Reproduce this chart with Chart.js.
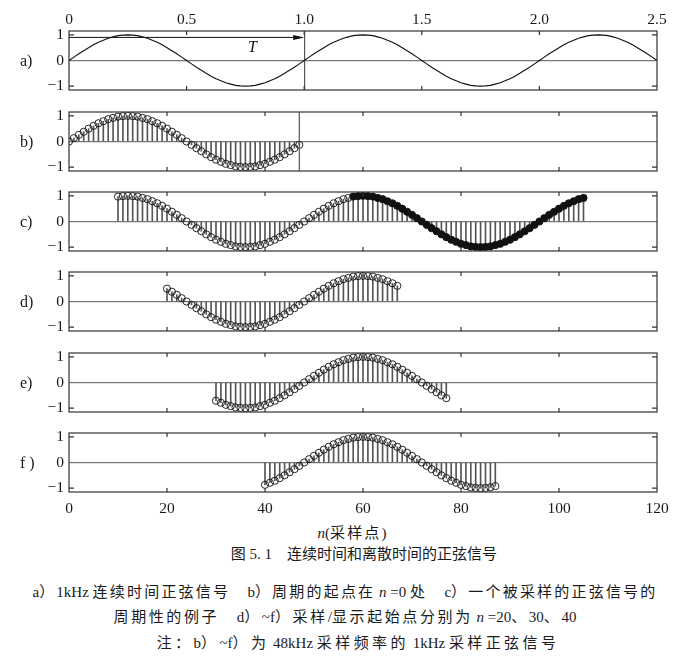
<!DOCTYPE html>
<html>
<head>
<meta charset="utf-8">
<script src="https://cdn.jsdelivr.net/npm/chart.js@4.4.0/dist/chart.umd.min.js"></script>
<style>
    body { margin: 0; background: #fff; }
    #page { position: relative; width: 687px; height: 663px; overflow: hidden;
            font-family: "Liberation Serif", "Noto Sans CJK SC", serif; color: #1a1a1a; }
    .panel { position: absolute; left: 0; width: 687px; }
    .tag { position: absolute; left: 20px; font-size: 16px; line-height: 20px; }
    .txt { position: absolute; white-space: nowrap; transform: translateX(-50%); line-height: 20px; letter-spacing: 2.2px; }
    .l { letter-spacing: 0; }
</style>
</head>
<body>
<div id="page">
    <div class="txt" style="left:352px;top:523px;font-size:15px"><span class="l"><i>n</i>(</span>采样点<span class="l">)</span></div>
    <div class="txt" style="left:364px;top:544px;font-size:15px;letter-spacing:0">图 5. 1　连续时间和离散时间的正弦信号</div>
    <div class="txt" style="left:345px;top:582px;font-size:15px"><span class="l">a</span>）<span class="l">1kHz </span>连续时间正弦信号　<span class="l">b</span>）周期的起点在<span class="l"> <i>n</i> =0 </span>处　<span class="l">c</span>）一个被采样的正弦信号的</div>
    <div class="txt" style="left:345px;top:607px;font-size:15px;letter-spacing:2.6px">周期性的例子　<span class="l">d</span>）<span class="l">~f</span>）采样<span class="l">/</span>显示起始点分别为<span class="l"> <i>n</i> =20</span>、<span class="l">30</span>、<span class="l">40</span></div>
    <div class="txt" style="left:358px;top:633px;font-size:15px;letter-spacing:3.4px">注：<span class="l">b</span>）<span class="l">~f</span>）为<span class="l"> 48kHz </span>采样频率的<span class="l"> 1kHz </span>采样正弦信号</div>
</div>
<script>
// one period of the 1 kHz sine at 48 kHz
const periodSamples = [
    0, 0.13, 0.26, 0.38, 0.5, 0.61, 0.71, 0.79, 0.87, 0.92, 0.97, 0.99,
    1, 0.99, 0.97, 0.92, 0.87, 0.79, 0.71, 0.61, 0.5, 0.38, 0.26, 0.13,
    0, -0.13, -0.26, -0.38, -0.5, -0.61, -0.71, -0.79, -0.87, -0.92, -0.97, -0.99,
    -1, -0.99, -0.97, -0.92, -0.87, -0.79, -0.71, -0.61, -0.5, -0.38, -0.26, -0.13
];
const samplesPerMs = 48;
const panelNames = ['a)', 'b)', 'c)', 'd)', 'e)', 'f )'];
const firstSample = [0, 0, 10, 20, 30, 40];
const lastSample = [120, 47, 105, 67, 77, 87];
const filledFrom = 58;          // panel c: second period drawn solid
const periodMarkMs = 1.0;       // panel a vertical line
const periodMarkSample = 47;    // panel b vertical line
const arrowLevel = 0.9;
const arrowLabel = { text: 'T', x: 0.78, y: 0.5 };
const timeTicks = [0, 0.5, 1.0, 1.5, 2.0, 2.5];
const sampleTicks = [0, 20, 40, 60, 80, 100, 120];
const levelTicks = [-1, 0, 1];

// layout
const boxLeft = 69, boxRight = 657, boxHeight = 59;
const boxTops = [31, 112, 192, 272, 353, 433];

const tickFont = { family: '"Liberation Serif", serif', size: 15.5 };

function sampleSeries(from, to) {
    const out = [];
    for (let n = from; n <= to; n++) {
        out.push({ x: n, y: periodSamples[n % periodSamples.length] });
    }
    return out;
}

function framePlugin(i) {
    return {
        id: 'frame' + i,
        afterDatasetsDraw(chart) {
            const { ctx, chartArea: a, scales: { x, y } } = chart;
            const marks = i === 0 ? timeTicks : sampleTicks;

            ctx.save();
            ctx.strokeStyle = '#333';
            ctx.lineWidth = 1.2;
            ctx.strokeRect(a.left, a.top, a.right - a.left, a.bottom - a.top);

            ctx.beginPath();
            marks.slice(1, -1).forEach(v => {
                const px = x.getPixelForValue(v);
                ctx.moveTo(px, a.top); ctx.lineTo(px, a.top + 4);
                ctx.moveTo(px, a.bottom); ctx.lineTo(px, a.bottom - 4);
            });
            [-1, 1].forEach(v => {
                const py = y.getPixelForValue(v);
                ctx.moveTo(a.left, py); ctx.lineTo(a.left + 5, py);
                ctx.moveTo(a.right, py); ctx.lineTo(a.right - 5, py);
            });
            ctx.stroke();

            if (i === 0) {
                const x0 = x.getPixelForValue(0), x1 = x.getPixelForValue(periodMarkMs);
                const py = y.getPixelForValue(arrowLevel);
                ctx.strokeStyle = '#111';
                ctx.lineWidth = 1;
                ctx.beginPath();
                ctx.moveTo(x0, py); ctx.lineTo(x1 - 6, py);
                ctx.stroke();
                ctx.fillStyle = '#111';
                ctx.beginPath();
                ctx.moveTo(x1, py); ctx.lineTo(x1 - 11, py - 2.5); ctx.lineTo(x1 - 11, py + 2.5);
                ctx.closePath();
                ctx.fill();

                ctx.font = 'italic 16px "Liberation Serif", serif';
                ctx.textAlign = 'center';
                ctx.textBaseline = 'middle';
                ctx.fillText(arrowLabel.text, x.getPixelForValue(arrowLabel.x), y.getPixelForValue(arrowLabel.y));
            }
            if (i === 1) {
                const px = x.getPixelForValue(periodMarkSample);
                ctx.strokeStyle = '#555';
                ctx.lineWidth = 1.2;
                ctx.beginPath();
                ctx.moveTo(px, a.top); ctx.lineTo(px, a.bottom);
                ctx.stroke();
            }
            ctx.restore();
        }
    };
}

function makePanel(i) {
    const isA = i === 0, isF = i === 5;
    const padTop = isA ? 0 : 10;
    const padBottom = isF ? 0 : 10;
    const topAxis = isA ? 31 : 0;
    const bottomAxis = isF ? 34 : 0;
    const top = boxTops[i] - padTop - topAxis;
    const height = padTop + topAxis + boxHeight + padBottom + bottomAxis;

    const wrap = document.createElement('div');
    wrap.className = 'panel';
    wrap.style.top = top + 'px';
    wrap.style.height = height + 'px';
    const canvas = document.createElement('canvas');
    wrap.appendChild(canvas);
    document.getElementById('page').appendChild(wrap);

    const tag = document.createElement('div');
    tag.className = 'tag';
    tag.textContent = panelNames[i];
    tag.style.top = (boxTops[i] + boxHeight / 2 - 10) + 'px';
    document.getElementById('page').appendChild(tag);

    let datasets;
    if (isA) {
        datasets = [{
            data: sampleSeries(firstSample[0], lastSample[0]).map(p => ({ x: p.x / samplesPerMs, y: p.y })),
            showLine: true,
            borderColor: '#111',
            borderWidth: 1.1,
            pointRadius: 0
        }];
    } else {
        const all = sampleSeries(firstSample[i], lastSample[i]);
        const open = i === 2 ? all.filter(p => p.x < filledFrom) : all;
        const solid = i === 2 ? all.filter(p => p.x >= filledFrom) : [];
        const circle = (data, fill) => ({
            type: 'line',
            data: data,
            showLine: false,
            pointRadius: 3.6,
            pointBorderWidth: 0.9,
            pointBorderColor: '#111',
            pointBackgroundColor: fill,
            order: 0
        });
        datasets = [
            circle(open, 'rgba(0,0,0,0)'),
            circle(solid, '#111'),
            {
                type: 'bar',
                data: all,
                barThickness: 1,
                backgroundColor: '#555',
                borderWidth: 0,
                order: 1
            }
        ];
    }

    new Chart(canvas, {
        type: 'scatter',
        data: { datasets: datasets },
        options: {
            responsive: true,
            maintainAspectRatio: false,
            animation: false,
            events: [],
            layout: { padding: { left: 0, right: 687 - boxRight, top: padTop, bottom: padBottom } },
            plugins: { legend: { display: false }, tooltip: { enabled: false } },
            scales: {
                x: {
                    type: 'linear',
                    display: isA || isF,
                    position: isA ? 'top' : 'bottom',
                    min: isA ? timeTicks[0] : sampleTicks[0],
                    max: isA ? timeTicks[timeTicks.length - 1] : sampleTicks[sampleTicks.length - 1],
                    offset: false,
                    afterBuildTicks: s => { s.ticks = (isA ? timeTicks : sampleTicks).map(v => ({ value: v })); },
                    afterFit: s => {
                        s.height = isA ? topAxis : bottomAxis;
                        s.paddingLeft = 0;
                        s.paddingRight = 0;
                    },
                    ticks: {
                        font: tickFont,
                        color: '#1a1a1a',
                        padding: isA ? 2 : 8,
                        maxRotation: 0,
                        callback: v => isA ? (v === 0 ? '0' : v.toFixed(1)) : String(v)
                    },
                    grid: {
                        drawTicks: false,
                        lineWidth: 1.2,
                        color: c => (isA && c.tick && c.tick.value === periodMarkMs) ? '#555' : 'rgba(0,0,0,0)'
                    },
                    border: { display: false }
                },
                y: {
                    type: 'linear',
                    min: -1.15,
                    max: 1.15,
                    afterBuildTicks: s => { s.ticks = levelTicks.map(v => ({ value: v })); },
                    afterFit: s => {
                        s.width = boxLeft;
                        s.paddingTop = 0;
                        s.paddingBottom = 0;
                    },
                    ticks: {
                        font: tickFont,
                        color: '#1a1a1a',
                        padding: 5,
                        callback: v => v < 0 ? '\u2212' + Math.abs(v) : String(v)
                    },
                    grid: {
                        drawTicks: false,
                        lineWidth: 1.2,
                        color: c => (c.tick && c.tick.value === 0) ? '#777' : 'rgba(0,0,0,0)'
                    },
                    border: { display: false }
                }
            }
        },
        plugins: [framePlugin(i)]
    });
}

for (let i = 0; i < panelNames.length; i++) makePanel(i);
</script>
</body>
</html>
